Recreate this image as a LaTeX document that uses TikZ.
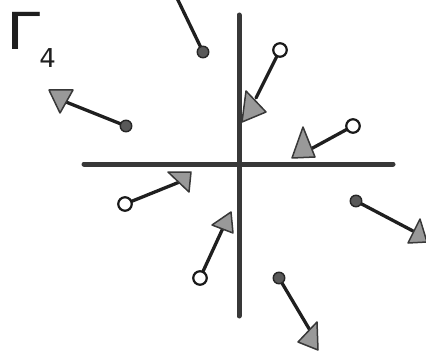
\documentclass[tikz,border=0pt]{standalone}
\usepackage{fontspec}
\setmainfont{DejaVu Sans}
\usepackage{graphicx}
\begin{document}
\begin{tikzpicture}[x=1pt,y=-1pt,
  axis/.style={draw=black!78,line width=5pt,line cap=round},
  stem/.style={draw=black!88,line width=3.3pt,line cap=round},
  headtri/.style={fill=black!40,draw=black!78,line width=1.5pt,line join=round},
  opendot/.style={circle,draw=black!90,line width=2.2pt,fill=white,minimum size=13.5pt,inner sep=0pt},
  filldot/.style={circle,draw=black!85,line width=1.4pt,fill=black!65,minimum size=11.5pt,inner sep=0pt},
  lbl/.style={inner sep=0pt,text=black!88}]
\useasboundingbox (0,0) rectangle (426,353);
\clip (0,0) rectangle (426,353);
% axes
\coordinate (vt) at (239,15);
\coordinate (vb) at (239,316);
\coordinate (hl) at (84,164);
\coordinate (hr) at (393,164);
\draw[axis] (vt) -- (vb);
\draw[axis] (hl) -- (hr);
% label
\node[lbl,anchor=base west] (gam) at (6,50) {\scalebox{1.2}[1]{\fontsize{51}{51}\selectfont Γ}\kern-1pt\raisebox{-18pt}{\fontsize{26}{26}\selectfont 4}};
% vector 1
\coordinate (e1) at (176,-4);
\draw[stem] (203,52) -- (e1);
\node[filldot] (d1) at (203,52) {};
% vector 2
\coordinate (b2) at (256,98);
\draw[stem] (280,50) -- (b2);
\draw[headtri] (246,91) -- (266,112) -- (242,122) -- cycle;
\node[opendot] (o2) at (280,50) {};
% vector 3
\coordinate (b3) at (309,150);
\draw[stem] (353,126) -- (b3);
\draw[headtri] (303,127) -- (315,157) -- (292,158) -- cycle;
\node[opendot] (o3) at (353,126) {};
% vector 4
\coordinate (b4) at (66,102);
\draw[stem] (126,126) -- (b4);
\draw[headtri] (49,90) -- (73,90) -- (60,113) -- cycle;
\node[filldot] (d4) at (126,126) {};
% vector 5
\coordinate (b5) at (182,181);
\draw[stem] (125,204) -- (b5);
\draw[headtri] (168,172) -- (191,172) -- (189,192) -- cycle;
\node[opendot] (o5) at (125,204) {};
% vector 6
\coordinate (b6) at (223,228);
\draw[stem] (200,278) -- (b6);
\draw[headtri] (212,225) -- (231,212) -- (233,233) -- cycle;
\node[opendot] (o6) at (200,278) {};
% vector 7
\coordinate (b7) at (413,231);
\draw[stem] (356,201) -- (b7);
\draw[headtri] (420,219) -- (427,242) -- (408,243) -- cycle;
\node[filldot] (d7) at (356,201) {};
% vector 8
\coordinate (b8) at (311,332);
\draw[stem] (279,278) -- (b8);
\draw[headtri] (317,322) -- (318,350) -- (298,342) -- cycle;
\node[filldot] (d8) at (279,278) {};
\end{tikzpicture}
\end{document}
